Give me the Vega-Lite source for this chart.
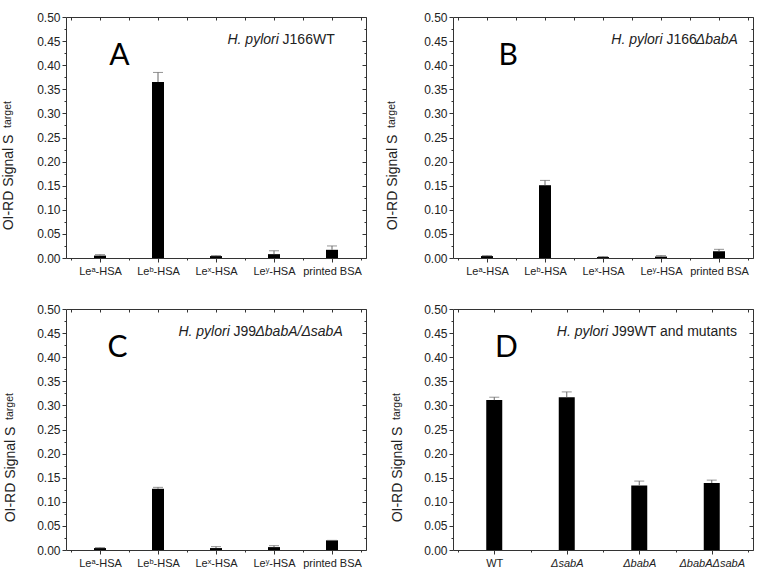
{
  "$schema": "https://vega.github.io/schema/vega-lite/v6.json",
  "background": "white",
  "padding": {"left": 0, "top": 10, "right": 5, "bottom": 5},
  "datasets": {
    "A": [
      {"cat": "Leᵃ-HSA", "value": 0.005, "upper": 0.007},
      {"cat": "Leᵇ-HSA", "value": 0.365, "upper": 0.385},
      {"cat": "Leˣ-HSA", "value": 0.004, "upper": 0.005},
      {"cat": "Leʸ-HSA", "value": 0.008, "upper": 0.015},
      {"cat": "printed BSA", "value": 0.017, "upper": 0.025}
    ],
    "B": [
      {"cat": "Leᵃ-HSA", "value": 0.004, "upper": 0.005},
      {"cat": "Leᵇ-HSA", "value": 0.151, "upper": 0.161},
      {"cat": "Leˣ-HSA", "value": 0.002, "upper": 0.003},
      {"cat": "Leʸ-HSA", "value": 0.003, "upper": 0.005},
      {"cat": "printed BSA", "value": 0.014, "upper": 0.018}
    ],
    "C": [
      {"cat": "Leᵃ-HSA", "value": 0.004, "upper": 0.005},
      {"cat": "Leᵇ-HSA", "value": 0.127, "upper": 0.130},
      {"cat": "Leˣ-HSA", "value": 0.004, "upper": 0.007},
      {"cat": "Leʸ-HSA", "value": 0.006, "upper": 0.009},
      {"cat": "printed BSA", "value": 0.020, "upper": 0.020}
    ],
    "D": [
      {"cat": "WT", "value": 0.311, "upper": 0.317},
      {"cat": "ΔsabA", "value": 0.317, "upper": 0.328},
      {"cat": "ΔbabA", "value": 0.134, "upper": 0.143},
      {"cat": "ΔbabAΔsabA", "value": 0.139, "upper": 0.145}
    ]
  },
  "columns": 2,
  "bounds": "flush",
  "spacing": {"row": 51, "column": 87},
  "concat": [
    {
      "width": 300, "height": 241,
      "data": {"name": "A"},
      "resolve": {"axis": {"x": "independent", "y": "independent"}},
      "layer": [
        {
          "transform": [{"window": [{"op": "row_number", "as": "idx"}]}],
          "mark": {"type": "bar", "size": 12, "color": "#000"},
          "encoding": {
            "x": {"field": "idx", "type": "quantitative", "scale": {"domain": [0.5, 5.5], "nice": false, "zero": false},
              "axis": {"orient": "bottom", "values": [1, 2, 3, 4, 5], "labelExpr": "['','Leᵃ-HSA','Leᵇ-HSA','Leˣ-HSA','Leʸ-HSA','printed BSA'][datum.value]", "tickSize": 4, "labelPadding": 3, "labelFontSize": 11, "title": null, "labelFlush": false, "labelOverlap": false}},
            "y": {"field": "value", "type": "quantitative", "scale": {"domain": [0, 0.5], "nice": false},
              "axis": {"orient": "left", "values": [0, 0.05, 0.1, 0.15, 0.2, 0.25, 0.3, 0.35, 0.4, 0.45, 0.5], "format": ".2f", "tickSize": 4, "labelFontSize": 12, "labelPadding": 2, "labelFlush": false, "labelOverlap": false, "title": "OI-RD Signal  S", "titleFontSize": 14, "titleX": -58, "titleY": 165, "titleAngle": -90, "titleAlign": "center", "titleBaseline": "middle"}}
          }
        },
        {
          "transform": [{"window": [{"op": "row_number", "as": "idx"}]}],
          "mark": {"type": "rule", "color": "#666", "strokeWidth": 1},
          "encoding": {
            "x": {"field": "idx", "type": "quantitative", "scale": {"domain": [0.5, 5.5], "nice": false, "zero": false},
              "axis": {"orient": "bottom", "values": [0.5, 1.5, 2.5, 3.5, 4.5, 5.5], "labels": false, "tickSize": 2, "title": null}},
            "y": {"field": "value", "type": "quantitative", "scale": {"domain": [0, 0.5], "nice": false},
              "axis": {"orient": "left", "values": [0.025, 0.075, 0.125, 0.175, 0.225, 0.275, 0.325, 0.375, 0.425, 0.475], "labels": false, "tickSize": 2, "title": "target", "titleFontSize": 10.5, "titleX": -59, "titleY": 97, "titleAngle": -90, "titleAlign": "center", "titleBaseline": "middle"}},
            "y2": {"field": "upper"}
          }
        },
        {
          "transform": [{"window": [{"op": "row_number", "as": "idx"}]}],
          "mark": {"type": "tick", "orient": "horizontal", "color": "#666", "size": 10, "thickness": 1},
          "encoding": {
            "x": {"field": "idx", "type": "quantitative", "scale": {"domain": [0.5, 5.5], "nice": false, "zero": false},
              "axis": {"orient": "top", "values": [0.5, 1, 1.5, 2, 2.5, 3, 3.5, 4, 4.5, 5, 5.5], "labels": false, "tickSize": -3, "title": null}},
            "y": {"field": "upper", "type": "quantitative", "scale": {"domain": [0, 0.5], "nice": false},
              "axis": {"orient": "right", "values": [0, 0.05, 0.1, 0.15, 0.2, 0.25, 0.3, 0.35, 0.4, 0.45, 0.5], "labels": false, "tickSize": -4, "title": null}}
          }
        },
        {
          "data": {"values": [{}]},
          "mark": {"type": "text", "text": "A", "font": "Lato", "fontSize": 30, "align": "center", "baseline": "alphabetic", "color": "#000"},
          "encoding": {
            "x": {"datum": 1.333, "type": "quantitative", "scale": {"domain": [0.5, 5.5], "nice": false, "zero": false}, "axis": null},
            "y": {"datum": 0.4, "type": "quantitative", "scale": {"domain": [0, 0.5], "nice": false},
              "axis": {"orient": "right", "values": [0.025, 0.075, 0.125, 0.175, 0.225, 0.275, 0.325, 0.375, 0.425, 0.475], "labels": false, "tickSize": -2, "title": null}}
          }
        },
        {
          "data": {"values": [{}]},
          "mark": {"type": "text", "text": "H. pylori", "fontStyle": "italic", "fontSize": 14, "align": "right", "baseline": "alphabetic", "color": "#222"},
          "encoding": {
            "x": {"datum": 4.083, "type": "quantitative", "scale": {"domain": [0.5, 5.5], "nice": false, "zero": false}, "axis": null},
            "y": {"datum": 0.443, "type": "quantitative", "scale": {"domain": [0, 0.5], "nice": false}, "axis": null}
          }
        },
        {
          "data": {"values": [{}]},
          "mark": {"type": "text", "text": "J166WT", "fontSize": 14, "align": "left", "baseline": "alphabetic", "color": "#222"},
          "encoding": {
            "x": {"datum": 4.148, "type": "quantitative", "scale": {"domain": [0.5, 5.5], "nice": false, "zero": false}, "axis": null},
            "y": {"datum": 0.443, "type": "quantitative", "scale": {"domain": [0, 0.5], "nice": false}, "axis": null}
          }
        }
      ]
    },
    {
      "width": 300, "height": 241,
      "data": {"name": "B"},
      "resolve": {"axis": {"x": "independent", "y": "independent"}},
      "layer": [
        {
          "transform": [{"window": [{"op": "row_number", "as": "idx"}]}],
          "mark": {"type": "bar", "size": 12, "color": "#000"},
          "encoding": {
            "x": {"field": "idx", "type": "quantitative", "scale": {"domain": [0.5, 5.5], "nice": false, "zero": false},
              "axis": {"orient": "bottom", "values": [1, 2, 3, 4, 5], "labelExpr": "['','Leᵃ-HSA','Leᵇ-HSA','Leˣ-HSA','Leʸ-HSA','printed BSA'][datum.value]", "tickSize": 4, "labelPadding": 3, "labelFontSize": 11, "title": null, "labelFlush": false, "labelOverlap": false}},
            "y": {"field": "value", "type": "quantitative", "scale": {"domain": [0, 0.5], "nice": false},
              "axis": {"orient": "left", "values": [0, 0.05, 0.1, 0.15, 0.2, 0.25, 0.3, 0.35, 0.4, 0.45, 0.5], "format": ".2f", "tickSize": 4, "labelFontSize": 12, "labelPadding": 2, "labelFlush": false, "labelOverlap": false, "title": "OI-RD Signal  S", "titleFontSize": 14, "titleX": -61, "titleY": 165, "titleAngle": -90, "titleAlign": "center", "titleBaseline": "middle"}}
          }
        },
        {
          "transform": [{"window": [{"op": "row_number", "as": "idx"}]}],
          "mark": {"type": "rule", "color": "#666", "strokeWidth": 1},
          "encoding": {
            "x": {"field": "idx", "type": "quantitative", "scale": {"domain": [0.5, 5.5], "nice": false, "zero": false},
              "axis": {"orient": "bottom", "values": [0.5, 1.5, 2.5, 3.5, 4.5, 5.5], "labels": false, "tickSize": 2, "title": null}},
            "y": {"field": "value", "type": "quantitative", "scale": {"domain": [0, 0.5], "nice": false},
              "axis": {"orient": "left", "values": [0.025, 0.075, 0.125, 0.175, 0.225, 0.275, 0.325, 0.375, 0.425, 0.475], "labels": false, "tickSize": 2, "title": "target", "titleFontSize": 10.5, "titleX": -62, "titleY": 97, "titleAngle": -90, "titleAlign": "center", "titleBaseline": "middle"}},
            "y2": {"field": "upper"}
          }
        },
        {
          "transform": [{"window": [{"op": "row_number", "as": "idx"}]}],
          "mark": {"type": "tick", "orient": "horizontal", "color": "#666", "size": 10, "thickness": 1},
          "encoding": {
            "x": {"field": "idx", "type": "quantitative", "scale": {"domain": [0.5, 5.5], "nice": false, "zero": false},
              "axis": {"orient": "top", "values": [0.5, 1, 1.5, 2, 2.5, 3, 3.5, 4, 4.5, 5, 5.5], "labels": false, "tickSize": -3, "title": null}},
            "y": {"field": "upper", "type": "quantitative", "scale": {"domain": [0, 0.5], "nice": false},
              "axis": {"orient": "right", "values": [0, 0.05, 0.1, 0.15, 0.2, 0.25, 0.3, 0.35, 0.4, 0.45, 0.5], "labels": false, "tickSize": -4, "title": null}}
          }
        },
        {
          "data": {"values": [{}]},
          "mark": {"type": "text", "text": "B", "font": "Lato", "fontSize": 30, "align": "center", "baseline": "alphabetic", "color": "#000"},
          "encoding": {
            "x": {"datum": 1.367, "type": "quantitative", "scale": {"domain": [0.5, 5.5], "nice": false, "zero": false}, "axis": null},
            "y": {"datum": 0.4, "type": "quantitative", "scale": {"domain": [0, 0.5], "nice": false},
              "axis": {"orient": "right", "values": [0.025, 0.075, 0.125, 0.175, 0.225, 0.275, 0.325, 0.375, 0.425, 0.475], "labels": false, "tickSize": -2, "title": null}}
          }
        },
        {
          "data": {"values": [{}]},
          "mark": {"type": "text", "text": "H. pylori", "fontStyle": "italic", "fontSize": 14, "align": "right", "baseline": "alphabetic", "color": "#222"},
          "encoding": {
            "x": {"datum": 4.028, "type": "quantitative", "scale": {"domain": [0.5, 5.5], "nice": false, "zero": false}, "axis": null},
            "y": {"datum": 0.443, "type": "quantitative", "scale": {"domain": [0, 0.5], "nice": false}, "axis": null}
          }
        },
        {
          "data": {"values": [{}]},
          "mark": {"type": "text", "text": "J166", "fontSize": 14, "align": "left", "baseline": "alphabetic", "color": "#222"},
          "encoding": {
            "x": {"datum": 4.093, "type": "quantitative", "scale": {"domain": [0.5, 5.5], "nice": false, "zero": false}, "axis": null},
            "y": {"datum": 0.443, "type": "quantitative", "scale": {"domain": [0, 0.5], "nice": false}, "axis": null}
          }
        },
        {
          "data": {"values": [{}]},
          "mark": {"type": "text", "text": "ΔbabA", "fontStyle": "italic", "fontSize": 14, "align": "left", "baseline": "alphabetic", "color": "#222"},
          "encoding": {
            "x": {"datum": 4.6, "type": "quantitative", "scale": {"domain": [0.5, 5.5], "nice": false, "zero": false}, "axis": null},
            "y": {"datum": 0.443, "type": "quantitative", "scale": {"domain": [0, 0.5], "nice": false}, "axis": null}
          }
        }
      ]
    },
    {
      "width": 300, "height": 241,
      "data": {"name": "C"},
      "resolve": {"axis": {"x": "independent", "y": "independent"}},
      "layer": [
        {
          "transform": [{"window": [{"op": "row_number", "as": "idx"}]}],
          "mark": {"type": "bar", "size": 12, "color": "#000"},
          "encoding": {
            "x": {"field": "idx", "type": "quantitative", "scale": {"domain": [0.5, 5.5], "nice": false, "zero": false},
              "axis": {"orient": "bottom", "values": [1, 2, 3, 4, 5], "labelExpr": "['','Leᵃ-HSA','Leᵇ-HSA','Leˣ-HSA','Leʸ-HSA','printed BSA'][datum.value]", "tickSize": 4, "labelPadding": 3, "labelFontSize": 11, "title": null, "labelFlush": false, "labelOverlap": false}},
            "y": {"field": "value", "type": "quantitative", "scale": {"domain": [0, 0.5], "nice": false},
              "axis": {"orient": "left", "values": [0, 0.05, 0.1, 0.15, 0.2, 0.25, 0.3, 0.35, 0.4, 0.45, 0.5], "format": ".2f", "tickSize": 4, "labelFontSize": 12, "labelPadding": 2, "labelFlush": false, "labelOverlap": false, "title": "OI-RD Signal  S", "titleFontSize": 14, "titleX": -56, "titleY": 165, "titleAngle": -90, "titleAlign": "center", "titleBaseline": "middle"}}
          }
        },
        {
          "transform": [{"window": [{"op": "row_number", "as": "idx"}]}],
          "mark": {"type": "rule", "color": "#666", "strokeWidth": 1},
          "encoding": {
            "x": {"field": "idx", "type": "quantitative", "scale": {"domain": [0.5, 5.5], "nice": false, "zero": false},
              "axis": {"orient": "bottom", "values": [0.5, 1.5, 2.5, 3.5, 4.5, 5.5], "labels": false, "tickSize": 2, "title": null}},
            "y": {"field": "value", "type": "quantitative", "scale": {"domain": [0, 0.5], "nice": false},
              "axis": {"orient": "left", "values": [0.025, 0.075, 0.125, 0.175, 0.225, 0.275, 0.325, 0.375, 0.425, 0.475], "labels": false, "tickSize": 2, "title": "target", "titleFontSize": 10.5, "titleX": -57, "titleY": 97, "titleAngle": -90, "titleAlign": "center", "titleBaseline": "middle"}},
            "y2": {"field": "upper"}
          }
        },
        {
          "transform": [{"window": [{"op": "row_number", "as": "idx"}]}],
          "mark": {"type": "tick", "orient": "horizontal", "color": "#666", "size": 10, "thickness": 1},
          "encoding": {
            "x": {"field": "idx", "type": "quantitative", "scale": {"domain": [0.5, 5.5], "nice": false, "zero": false},
              "axis": {"orient": "top", "values": [0.5, 1, 1.5, 2, 2.5, 3, 3.5, 4, 4.5, 5, 5.5], "labels": false, "tickSize": -3, "title": null}},
            "y": {"field": "upper", "type": "quantitative", "scale": {"domain": [0, 0.5], "nice": false},
              "axis": {"orient": "right", "values": [0, 0.05, 0.1, 0.15, 0.2, 0.25, 0.3, 0.35, 0.4, 0.45, 0.5], "labels": false, "tickSize": -4, "title": null}}
          }
        },
        {
          "data": {"values": [{}]},
          "mark": {"type": "text", "text": "C", "font": "Lato", "fontSize": 30, "align": "center", "baseline": "alphabetic", "color": "#000"},
          "encoding": {
            "x": {"datum": 1.3, "type": "quantitative", "scale": {"domain": [0.5, 5.5], "nice": false, "zero": false}, "axis": null},
            "y": {"datum": 0.4, "type": "quantitative", "scale": {"domain": [0, 0.5], "nice": false},
              "axis": {"orient": "right", "values": [0.025, 0.075, 0.125, 0.175, 0.225, 0.275, 0.325, 0.375, 0.425, 0.475], "labels": false, "tickSize": -2, "title": null}}
          }
        },
        {
          "data": {"values": [{}]},
          "mark": {"type": "text", "text": "H. pylori", "fontStyle": "italic", "fontSize": 14, "align": "right", "baseline": "alphabetic", "color": "#222"},
          "encoding": {
            "x": {"datum": 3.238, "type": "quantitative", "scale": {"domain": [0.5, 5.5], "nice": false, "zero": false}, "axis": null},
            "y": {"datum": 0.443, "type": "quantitative", "scale": {"domain": [0, 0.5], "nice": false}, "axis": null}
          }
        },
        {
          "data": {"values": [{}]},
          "mark": {"type": "text", "text": "J99", "fontSize": 14, "align": "left", "baseline": "alphabetic", "color": "#222"},
          "encoding": {
            "x": {"datum": 3.303, "type": "quantitative", "scale": {"domain": [0.5, 5.5], "nice": false, "zero": false}, "axis": null},
            "y": {"datum": 0.443, "type": "quantitative", "scale": {"domain": [0, 0.5], "nice": false}, "axis": null}
          }
        },
        {
          "data": {"values": [{}]},
          "mark": {"type": "text", "text": "ΔbabA/ΔsabA", "fontStyle": "italic", "fontSize": 14, "align": "left", "baseline": "alphabetic", "color": "#222"},
          "encoding": {
            "x": {"datum": 3.68, "type": "quantitative", "scale": {"domain": [0.5, 5.5], "nice": false, "zero": false}, "axis": null},
            "y": {"datum": 0.443, "type": "quantitative", "scale": {"domain": [0, 0.5], "nice": false}, "axis": null}
          }
        }
      ]
    },
    {
      "width": 300, "height": 241,
      "data": {"name": "D"},
      "resolve": {"axis": {"x": "independent", "y": "independent"}},
      "layer": [
        {
          "transform": [{"window": [{"op": "row_number", "as": "idx"}]}],
          "mark": {"type": "bar", "size": 16, "color": "#000"},
          "encoding": {
            "x": {"field": "idx", "type": "quantitative", "scale": {"domain": [0.5, 4.5], "nice": false, "zero": false},
              "axis": {"orient": "bottom", "values": [1, 2, 3, 4], "labelExpr": "['','WT','ΔsabA','ΔbabA','ΔbabAΔsabA'][datum.value]", "labelFontStyle": {"condition": {"test": "datum.value > 1", "value": "italic"}, "value": "normal"}, "tickSize": 4, "labelPadding": 3, "labelFontSize": 11, "title": null, "labelFlush": false, "labelOverlap": false}},
            "y": {"field": "value", "type": "quantitative", "scale": {"domain": [0, 0.5], "nice": false},
              "axis": {"orient": "left", "values": [0, 0.05, 0.1, 0.15, 0.2, 0.25, 0.3, 0.35, 0.4, 0.45, 0.5], "format": ".2f", "tickSize": 4, "labelFontSize": 12, "labelPadding": 2, "labelFlush": false, "labelOverlap": false, "title": "OI-RD Signal  S", "titleFontSize": 14, "titleX": -56, "titleY": 165, "titleAngle": -90, "titleAlign": "center", "titleBaseline": "middle"}}
          }
        },
        {
          "transform": [{"window": [{"op": "row_number", "as": "idx"}]}],
          "mark": {"type": "rule", "color": "#666", "strokeWidth": 1},
          "encoding": {
            "x": {"field": "idx", "type": "quantitative", "scale": {"domain": [0.5, 4.5], "nice": false, "zero": false},
              "axis": {"orient": "bottom", "values": [0.5, 1.5, 2.5, 3.5, 4.5], "labels": false, "tickSize": 2, "title": null}},
            "y": {"field": "value", "type": "quantitative", "scale": {"domain": [0, 0.5], "nice": false},
              "axis": {"orient": "left", "values": [0.025, 0.075, 0.125, 0.175, 0.225, 0.275, 0.325, 0.375, 0.425, 0.475], "labels": false, "tickSize": 2, "title": "target", "titleFontSize": 10.5, "titleX": -57, "titleY": 97, "titleAngle": -90, "titleAlign": "center", "titleBaseline": "middle"}},
            "y2": {"field": "upper"}
          }
        },
        {
          "transform": [{"window": [{"op": "row_number", "as": "idx"}]}],
          "mark": {"type": "tick", "orient": "horizontal", "color": "#666", "size": 10, "thickness": 1},
          "encoding": {
            "x": {"field": "idx", "type": "quantitative", "scale": {"domain": [0.5, 4.5], "nice": false, "zero": false},
              "axis": {"orient": "top", "values": [0.5, 1, 1.5, 2, 2.5, 3, 3.5, 4, 4.5], "labels": false, "tickSize": -3, "title": null}},
            "y": {"field": "upper", "type": "quantitative", "scale": {"domain": [0, 0.5], "nice": false},
              "axis": {"orient": "right", "values": [0, 0.05, 0.1, 0.15, 0.2, 0.25, 0.3, 0.35, 0.4, 0.45, 0.5], "labels": false, "tickSize": -4, "title": null}}
          }
        },
        {
          "data": {"values": [{}]},
          "mark": {"type": "text", "text": "D", "font": "Lato", "fontSize": 30, "align": "center", "baseline": "alphabetic", "color": "#000"},
          "encoding": {
            "x": {"datum": 1.167, "type": "quantitative", "scale": {"domain": [0.5, 4.5], "nice": false, "zero": false}, "axis": null},
            "y": {"datum": 0.4, "type": "quantitative", "scale": {"domain": [0, 0.5], "nice": false},
              "axis": {"orient": "right", "values": [0.025, 0.075, 0.125, 0.175, 0.225, 0.275, 0.325, 0.375, 0.425, 0.475], "labels": false, "tickSize": -2, "title": null}}
          }
        },
        {
          "data": {"values": [{}]},
          "mark": {"type": "text", "text": "H. pylori", "fontStyle": "italic", "fontSize": 14, "align": "right", "baseline": "alphabetic", "color": "#222"},
          "encoding": {
            "x": {"datum": 2.571, "type": "quantitative", "scale": {"domain": [0.5, 4.5], "nice": false, "zero": false}, "axis": null},
            "y": {"datum": 0.443, "type": "quantitative", "scale": {"domain": [0, 0.5], "nice": false}, "axis": null}
          }
        },
        {
          "data": {"values": [{}]},
          "mark": {"type": "text", "text": "J99WT and mutants", "fontSize": 14, "align": "left", "baseline": "alphabetic", "color": "#222"},
          "encoding": {
            "x": {"datum": 2.623, "type": "quantitative", "scale": {"domain": [0.5, 4.5], "nice": false, "zero": false}, "axis": null},
            "y": {"datum": 0.443, "type": "quantitative", "scale": {"domain": [0, 0.5], "nice": false}, "axis": null}
          }
        }
      ]
    }
  ],
  "config": {
    "view": {"stroke": "#333", "strokeWidth": 1},
    "axis": {"domain": false, "grid": false, "tickColor": "#333", "tickWidth": 1, "labelFont": "Liberation Sans", "labelColor": "#222", "titleFont": "Liberation Sans", "titleFontWeight": "normal", "titleColor": "#222"},
    "text": {"font": "Liberation Sans"}
  }
}
